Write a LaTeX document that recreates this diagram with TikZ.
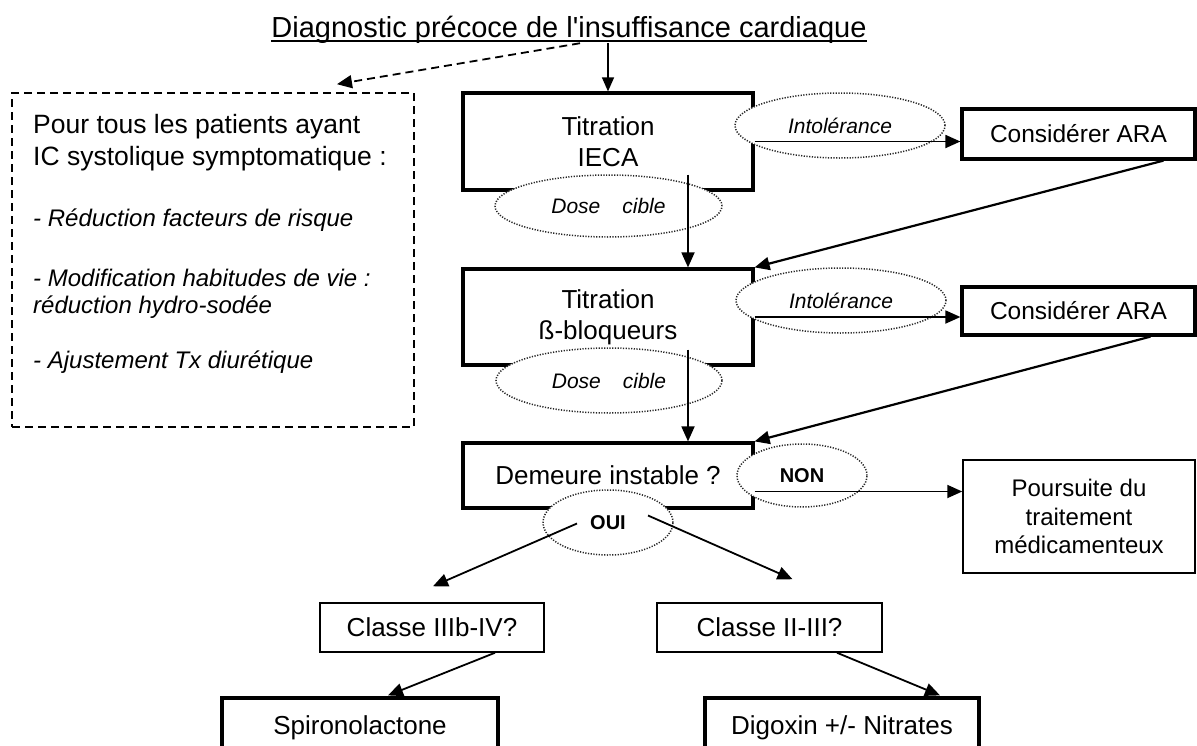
\documentclass[tikz,border=0pt]{standalone}
\usepackage{fontspec}
\setmainfont{Liberation Sans}
\usetikzlibrary{arrows.meta,shapes.geometric,calc}
\begin{document}
\begin{tikzpicture}[x=1pt,y=-1pt,
  box/.style={draw,line width=3.2pt,rectangle,inner sep=0pt,align=center,font=\fontsize{26}{31}\selectfont},
  thinbox/.style={box,line width=1.5pt},
  lab/.style={ellipse,draw=black!85,fill=white,line width=1.5pt,dash pattern=on 1.2pt off 1.5pt,inner sep=0pt,font=\fontsize{21}{25}\selectfont\itshape},
  yn/.style={lab,font=\fontsize{20}{24}\selectfont\bfseries},
  arr/.style={line width=1.8pt,-{Triangle[length=15pt,width=13pt]}},
  darr/.style={line width=1.8pt,dash pattern=on 8pt off 5pt,-{Triangle[length=15pt,width=13pt]}},
  sidetxt/.style={anchor=base west,inner sep=0pt,font=\fontsize{26.5}{30}\selectfont},
  itemtxt/.style={anchor=base west,inner sep=0pt,font=\fontsize{24}{28}\selectfont\itshape},
]
\clip (0,0) rectangle (1197,745);
\fill[white] (0,0) rectangle (1197,745);

% title
\node[anchor=base,inner sep=0pt,font=\fontsize{29}{34}\selectfont] (title) at (569,37)
  {Diagnostic précoce de l\textquotesingle insuffisance cardiaque};
\draw[line width=1.8pt] ($(title.base west)+(0,4)$) -- ($(title.base east)+(0,4)$);

% side dashed box
\node[draw,line width=1.6pt,dash pattern=on 8pt off 5pt,minimum width=402,minimum height=334,inner sep=0pt] (side) at (213,260) {};
\node[sidetxt] (s1) at (33,133) {Pour tous les patients ayant};
\node[sidetxt] (s2) at (33,165) {IC systolique symptomatique :};
\node[itemtxt] (s3) at (33,226) {- Réduction facteurs de risque};
\node[itemtxt] (s4) at (33,286) {- Modification habitudes de vie :};
\node[itemtxt] (s5) at (33,313) {réduction hydro-sodée};
\node[itemtxt] (s6) at (33,368) {- Ajustement Tx diurétique};

% main boxes
\node[box,minimum width=290,minimum height=97] (t1) at (608,141.5) {Titration\\IECA};
\node[box,minimum width=290,minimum height=96] (t2) at (608,317) {Titration\\ß-bloqueurs};
\node[box,minimum width=290,minimum height=65] (d) at (608,475.5) {Demeure instable ?};
\node[box,minimum width=233,minimum height=50,font=\fontsize{24.5}{29}\selectfont] (a1) at (1078.5,134) {Considérer ARA};
\node[box,minimum width=233,minimum height=48,font=\fontsize{24.5}{29}\selectfont] (a2) at (1078.5,311) {Considérer ARA};
\node[thinbox,minimum width=232,minimum height=113,font=\fontsize{24}{28.5}\selectfont] (p) at (1079,516.5) {Poursuite du\\traitement\\médicamenteux};
\node[thinbox,minimum width=224,minimum height=49] (c3) at (432,627.5) {Classe IIIb-IV?};
\node[thinbox,minimum width=225,minimum height=49] (c4) at (769.5,627.5) {Classe II-III?};
\node[box,minimum width=276,minimum height=60] (s) at (360,728) {Spironolactone};
\node[box,minimum width=274,minimum height=60] (g) at (842,728) {Digoxin +/- Nitrates};

% dotted labels
\node[lab,minimum width=210,minimum height=65] (i1) at (840,125.5) {Intolérance};
\node[lab,minimum width=210,minimum height=65] (i2) at (841,300.5) {Intolérance};
\node[lab,minimum width=227,minimum height=62] (e1) at (608.5,206) {Dose\hspace{22pt}cible};
\node[lab,minimum width=226,minimum height=65] (e2) at (609,380.5) {Dose\hspace{22pt}cible};
\node[yn,minimum width=130,minimum height=63] (non) at (802,475.5) {NON};
\node[yn,minimum width=130,minimum height=65] (oui) at (608,522.5) {OUI};

% connectors
\draw[line width=1.3pt,-{Triangle[length=14pt,width=12pt]}] (title.south -| t1.north) -- (t1.north);
\coordinate (dtip) at ($(side.north)+(124,-8)$);
\draw[darr] ($(title.south)+(11,0)$) -- (dtip);
\draw[arr] (t1.east) -- (t1.east -| a1.west);
\draw[arr,line width=2.2pt] ($(a1.south)+(85,0)$) -- (t2.north east);
\draw[arr] ($(t1.south)+(80,-17)$) -- ($(t2.north)+(80,0)$);
\draw[arr] (t2.east) -- (t2.east -| a2.west);
\draw[arr,line width=2.2pt] ($(a2.south)+(72,0)$) -- (d.north east);
\draw[arr] ($(t2.south)+(80,-17)$) -- ($(d.north)+(80,0)$);
\coordinate (nonstart) at ($(d.east)+(0,16)$);
\draw[arr] (nonstart) -- (nonstart -| p.west);
\draw[arr] ($(oui.center)+(-31,1)$) -- ($(c3.north)+(1,-16)$);
\draw[arr] ($(oui.center)+(40,-7)$) -- ($(c4.north)+(23,-23)$);
\draw[arr] ($(c3.south)+(63,0)$) -- ($(s.north)+(28,-1)$);
\draw[arr] ($(c4.south)+(67.5,0)$) -- ($(g.north)+(98,-1)$);
\end{tikzpicture}
\end{document}
